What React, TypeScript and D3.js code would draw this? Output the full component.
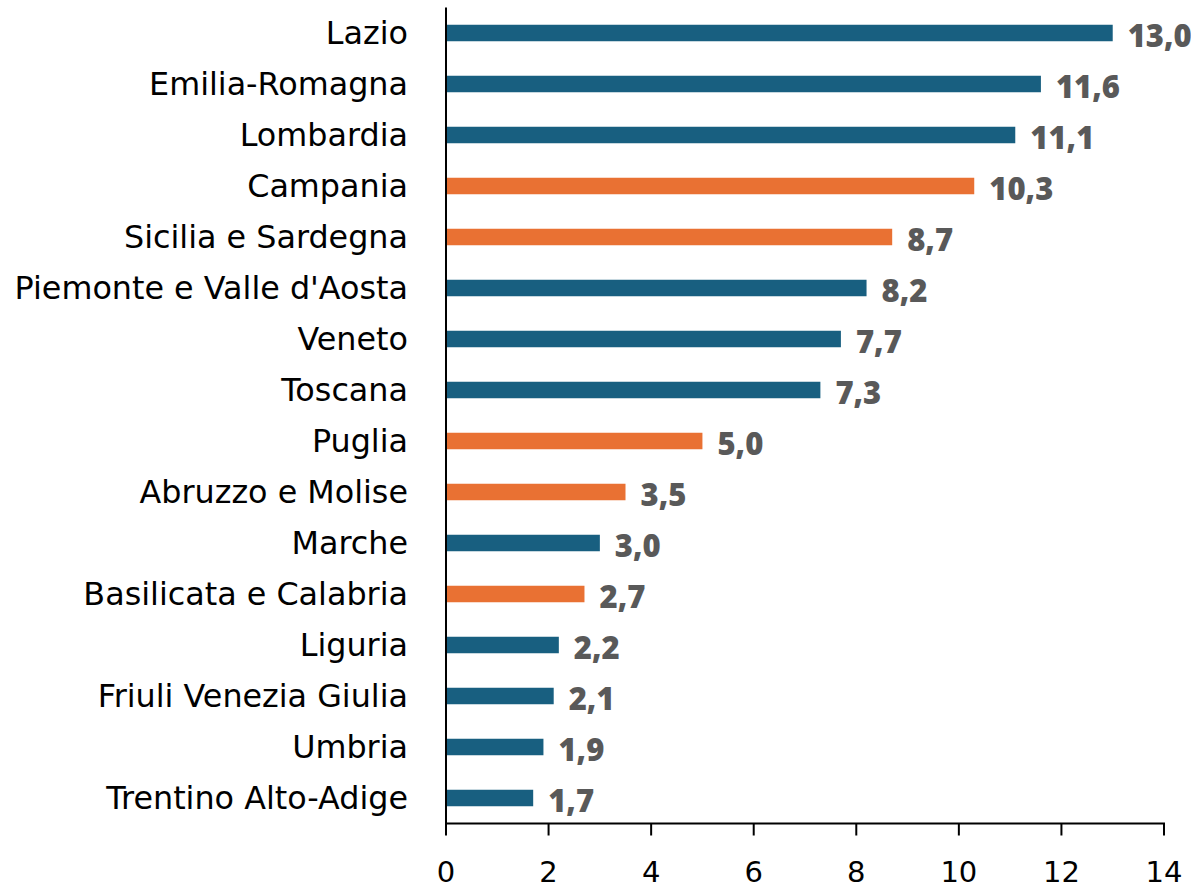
import React from "react";
import * as d3 from "d3";

const categories = [
  "Lazio",
  "Emilia-Romagna",
  "Lombardia",
  "Campania",
  "Sicilia e Sardegna",
  "Piemonte e Valle d'Aosta",
  "Veneto",
  "Toscana",
  "Puglia",
  "Abruzzo e Molise",
  "Marche",
  "Basilicata e Calabria",
  "Liguria",
  "Friuli Venezia Giulia",
  "Umbria",
  "Trentino Alto-Adige",
];
const values = [13.0, 11.6, 11.1, 10.3, 8.7, 8.2, 7.7, 7.3, 5.0, 3.5, 3.0, 2.7, 2.2, 2.1, 1.9, 1.7];
const groups = ["N", "N", "N", "S", "S", "N", "N", "N", "S", "S", "N", "S", "N", "N", "N", "N"];
const xTicks = [0, 2, 4, 6, 8, 10, 12, 14];

const W = 1191;
const H = 888;
const BLUE = "#185f80";
const ORANGE = "#e97133";
const FONT = "'DejaVu Sans', sans-serif";
const VFONT = "'Open Sans', sans-serif";

export default function App() {
  const x = d3.scaleLinear().domain([0, 14]).range([446, 1164]);
  const p = 1 - 16.5 / 51;
  const y = d3
    .scaleBand<string>()
    .domain(categories)
    .range([7.5, 823.5])
    .paddingInner(p)
    .paddingOuter(p / 2);
  const color = (g: string) => (g === "S" ? ORANGE : BLUE);
  const fmt = (v: number) => d3.format(".1f")(v).replace(".", ",");
  const axisY = 823.5;

  return (
    <svg
      width={W}
      height={H}
      style={{ position: "absolute", left: 0, top: 0, background: "#fff" }}
    >
      {categories.map((c, i) => {
        const yc = (y(c) as number) + y.bandwidth() / 2;
        return (
          <g key={c}>
            <rect
              x={x(0)}
              y={y(c)}
              width={x(values[i]) - x(0)}
              height={y.bandwidth()}
              fill={color(groups[i])}
            />
            <text
              x={408}
              y={yc + 11}
              textAnchor="end"
              fontFamily={FONT}
              fontSize={31.8}
              fill="#000"
            >
              {c}
            </text>
            <text
              x={x(values[i]) + 15}
              y={yc + 14}
              fontFamily={VFONT}
              fontSize={31}
              fontWeight={800}
              fill="#595959"
            >
              {fmt(values[i])}
            </text>
          </g>
        );
      })}
      <line x1={x(0)} x2={x(0)} y1={7.5} y2={axisY} stroke="#000" strokeWidth={2} />
      <line x1={x(0) - 1} x2={x(14) + 1} y1={axisY} y2={axisY} stroke="#000" strokeWidth={2} />
      {xTicks.map((t) => (
        <g key={t}>
          <line x1={x(t)} x2={x(t)} y1={axisY} y2={axisY + 12} stroke="#000" strokeWidth={2} />
          <text
            x={x(t)}
            y={882}
            textAnchor="middle"
            fontFamily={FONT}
            fontSize={29}
            fill="#000"
          >
            {t}
          </text>
        </g>
      ))}
    </svg>
  );
}
